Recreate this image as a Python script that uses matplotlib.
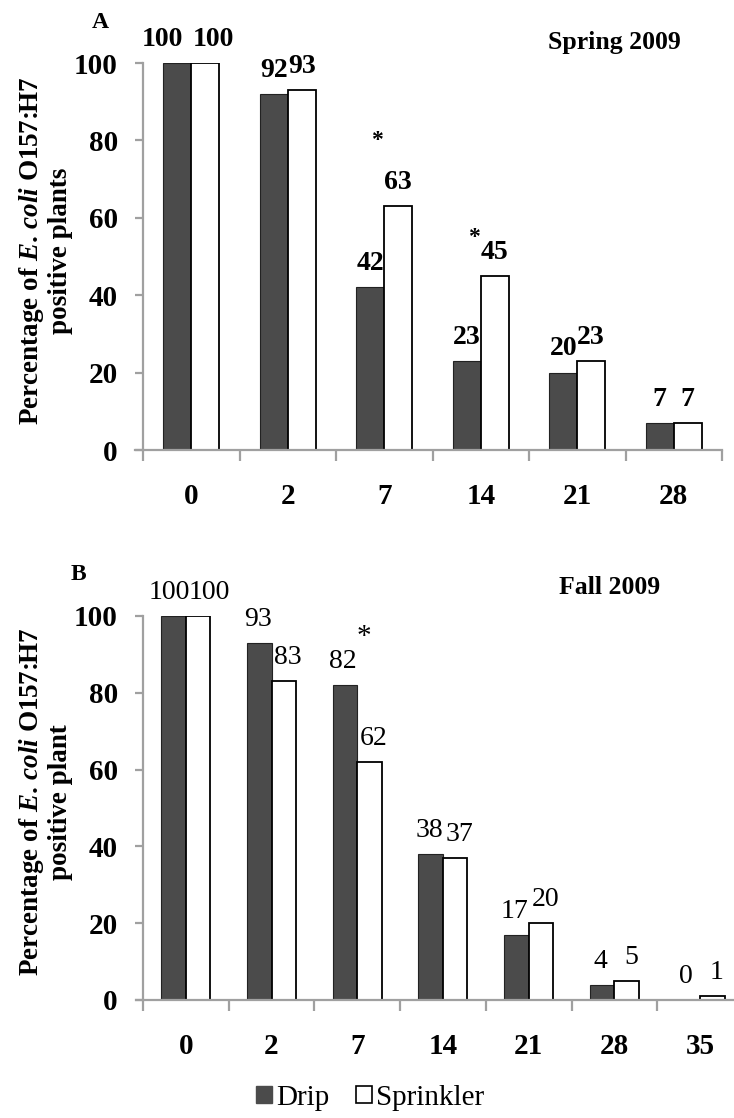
import numpy as np
import matplotlib
matplotlib.use("Agg")
import matplotlib.pyplot as plt
from matplotlib.patches import Patch

plt.rcParams["font.family"] = ["Liberation Serif", "DejaVu Serif"]
plt.rcParams["mathtext.fontset"] = "custom"
plt.rcParams["mathtext.it"] = "Liberation Serif:italic:bold"
plt.rcParams["mathtext.rm"] = "Liberation Serif:bold"

# =====================================================
# DATA
# =====================================================
spring_days = ["0", "2", "7", "14", "21", "28"]
spring_drip = [100, 92, 42, 23, 20, 7]
spring_sprinkler = [100, 93, 63, 45, 23, 7]
spring_signif = ["7", "14"]
spring_star_y = [80, 55]

fall_days = ["0", "2", "7", "14", "21", "28", "35"]
fall_drip = [100, 93, 82, 38, 17, 4, 0]
fall_sprinkler = [100, 83, 62, 37, 20, 5, 1]
fall_signif = ["7"]
fall_star_y = [94.5]

yticks = [0, 20, 40, 60, 80, 100]

DRIP_COLOR = "#4b4b4b"
AXIS_GREY = "#a0a0a0"

W, H = 734, 1118
fig = plt.figure(figsize=(W / 100, H / 100), dpi=100)


def fx(px):
    return px / W


def fy(py):
    return 1 - py / H


def draw_panel(spine_x, cat_w, y_zero, y_hundred, days, drip, sprink, signif, star_y,
               bar_w, label_bold, nudges, star_style, panel_letter, season,
               letter_pos, season_pos, ylabel_text):
    n = len(days)
    lead = 0.085  # x axis pokes a little left of the y axis
    left_px = spine_x - lead * cat_w
    right_px = spine_x + n * cat_w
    ax = fig.add_axes([fx(left_px), fy(y_zero), fx(right_px) - fx(left_px),
                       fy(y_hundred) - fy(y_zero)])
    x = np.arange(n) + 0.5
    ax.bar(x - bar_w / 2, drip, bar_w, color=DRIP_COLOR, edgecolor="#222222", linewidth=0.8)
    ax.bar(x + bar_w / 2, sprink, bar_w, color="white", edgecolor="black", linewidth=1.3)

    ax.set_xlim(-lead, n)
    ax.set_ylim(0, 100)

    # value labels above the bars
    weight = "bold" if label_bold else "normal"
    for i in range(n):
        d, s = str(drip[i]), str(sprink[i])
        wide = len(d) == 3 and len(s) == 3
        dn, sn = nudges[1] if wide else nudges[0]
        ax.annotate(d, (x[i] - bar_w / 2 + dn, drip[i]), xytext=(0, 8),
                    textcoords="offset points", ha="center", va="bottom",
                    fontsize=20, fontweight=weight, annotation_clip=False)
        ax.annotate(s, (x[i] + bar_w / 2 + sn, sprink[i]), xytext=(0, 8),
                    textcoords="offset points", ha="center", va="bottom",
                    fontsize=20, fontweight=weight, annotation_clip=False)

    # significance asterisks
    for day, sy in zip(signif, star_y):
        i = days.index(day)
        if star_style == "bold":
            ax.text(x[i] - bar_w / 2 + 0.07, sy, "*", ha="center", va="center",
                    fontsize=17, fontweight="bold")
        else:
            ax.text(x[i] + bar_w / 2 - 0.07, sy, "*", ha="center", va="center",
                    fontsize=21)

    for side in ["top", "right"]:
        ax.spines[side].set_visible(False)
    for side in ["left", "bottom"]:
        ax.spines[side].set_color(AXIS_GREY)
        ax.spines[side].set_linewidth(1.6)
    ax.spines["left"].set_position(("data", 0))

    ax.set_yticks(yticks)
    ax.set_yticklabels([str(t) for t in yticks], fontsize=21, fontweight="bold")
    ax.tick_params(axis="y", length=6, width=1.6, color=AXIS_GREY, pad=12)

    ax.set_xticks(np.arange(n + 1))
    ax.set_xticklabels([])
    ax.set_xticks(x, minor=True)
    ax.set_xticklabels(days, minor=True, fontsize=21, fontweight="bold")
    ax.tick_params(axis="x", which="major", length=8, width=1.6, color=AXIS_GREY)
    ax.tick_params(axis="x", which="minor", length=0, pad=24)

    fig.text(fx(letter_pos[0]), fy(letter_pos[1]), panel_letter, fontsize=17,
             fontweight="bold", ha="center", va="center")
    fig.text(fx(season_pos[0]), fy(season_pos[1]), season, fontsize=18.5,
             fontweight="bold", ha="center", va="center")
    fig.text(fx(45), fy((y_zero + y_hundred) / 2 - 6), ylabel_text, rotation=90,
             ha="center", va="center", multialignment="center",
             fontsize=19.5, fontweight="bold", linespacing=1.15)
    return ax


# Panel A: Spring 2009
draw_panel(143, 96.5, 450, 63, spring_days, spring_drip, spring_sprinkler,
           spring_signif, spring_star_y, bar_w=0.29, label_bold=True,
           nudges=[(0.0, 0.0), (-0.15, 0.08)], star_style="bold",
           panel_letter="A", season="Spring 2009",
           letter_pos=(100, 23), season_pos=(614, 42),
           ylabel_text="Percentage of $E.\\,coli$ O157:H7\npositive plants")

# Panel B: Fall 2009
draw_panel(143, 85.7, 1000, 616, fall_days, fall_drip, fall_sprinkler,
           fall_signif, fall_star_y, bar_w=0.286, label_bold=False,
           nudges=[(-0.02, 0.05), (-0.05, 0.13)], star_style="plain",
           panel_letter="B", season="Fall 2009",
           letter_pos=(78, 575), season_pos=(610, 587),
           ylabel_text="Percentage of $E.\\,coli$ O157:H7\npositive plant")

handles = [Patch(facecolor=DRIP_COLOR, edgecolor=DRIP_COLOR, label="Drip"),
           Patch(facecolor="white", edgecolor="black", linewidth=1.2, label="Sprinkler")]
fig.legend(handles=handles, loc="center", bbox_to_anchor=(fx(370), fy(1098)),
           ncol=2, frameon=False, prop={"family": "Liberation Serif", "size": 21},
           handlelength=0.55, handleheight=0.55, handletextpad=0.15,
           columnspacing=0.9)

fig.savefig("out.png", dpi=100)
